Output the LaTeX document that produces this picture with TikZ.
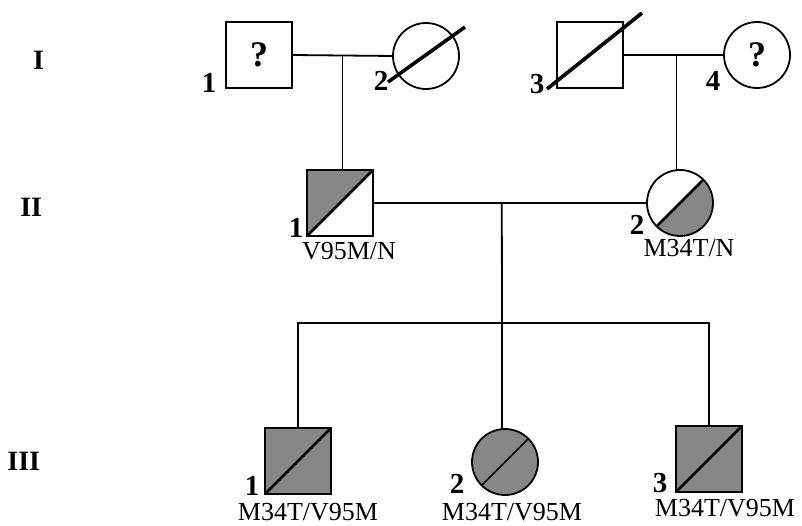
\documentclass[tikz,border=0pt]{standalone}
\usepackage{fontspec}
\setmainfont{Liberation Serif}
\usetikzlibrary{calc,backgrounds}
\definecolor{affgray}{RGB}{135,135,135}

\begin{document}
\begin{tikzpicture}[x=1pt, y=-1pt, line width=1.8pt,
  male/.style={draw, rectangle, minimum size=66pt, inner sep=0pt, outer sep=0pt},
  female/.style={draw, circle, minimum size=66pt, inner sep=0pt, outer sep=0pt},
  qmark/.style={font=\fontsize{36}{36}\selectfont\bfseries},
  num/.style={font=\fontsize{29}{29}\selectfont\bfseries, anchor=base, inner sep=0pt},
  geno/.style={font=\fontsize{26}{26}\selectfont, anchor=base, inner sep=0pt},
  gen/.style={font=\fontsize{28}{28}\selectfont\bfseries, anchor=base east, inner sep=0pt},
  dead/.style={line width=3.6pt},
  split/.style={line width=2.8pt}]
  \useasboundingbox (0,0) rectangle (802,526);

  \node[gen] (genI) at (45,70) {I};
  \node[gen] (genII) at (43,217) {II};
  \node[gen] (genIII) at (41,470) {III};

  \node[male, qmark] (I1) at (259,55) {?};
  \node[female] (I2) at (426,56) {};
  \node[male] (I3) at (590,55) {};
  \node[female, qmark] (I4) at (757,55) {?};
  \node[num] (nI1) at (209,93) {1};
  \node[num] (nI2) at (381,91) {2};
  \node[num] (nI3) at (537,94) {3};
  \node[num] (nI4) at (713,91) {4};
  \draw[dead] ($(I2)+(-38,26)$) -- ($(I2)+(39,-29)$);
  \draw[dead] ($(I3)+(-43,34)$) -- ($(I3)+(52,-42)$);

  \node[male] (II1) at (340,203) {};
  \node[female] (II2) at (680,203) {};
  \node[num] (nII1) at (296,238) {1};
  \node[num] (nII2) at (637,235) {2};
  \node[geno] (gII1) at (349,260) {V95M/N};
  \node[geno] (gII2) at (689,257) {M34T/N};
  \begin{scope}[on background layer]
    \fill[affgray] (II1.south west) -- (II1.north west) -- (II1.north east) -- cycle;
    \clip (II2.center) circle[radius=33pt];
    \fill[affgray] ($(II2.center)+(-40,40)$) -- ($(II2.center)+(40,-40)$) -- ($(II2.center)+(40,40)$) -- cycle;
  \end{scope}
  \draw[split] (II1.south west) -- (II1.north east);
  \draw[split] (II2.south west) -- (II2.north east);

  \node[male, fill=affgray] (III1) at (298,461) {};
  \node[female, fill=affgray] (III2) at (505,462) {};
  \node[male, fill=affgray] (III3) at (709,459) {};
  \node[num] (nIII1) at (252,495) {1};
  \node[num] (nIII2) at (457,493) {2};
  \node[num] (nIII3) at (660,492) {3};
  \node[geno] (gIII1) at (308,520) {M34T/V95M};
  \node[geno] (gIII2) at (512,520) {M34T/V95M};
  \node[geno] (gIII3) at (725,516) {M34T/V95M};
  \draw[split] (III1.south west) -- (III1.north east);
  \draw[line width=1.5pt] (III2.south west) -- (III2.north east);
  \draw[split] (III3.south west) -- (III3.north east);

  \coordinate (m1) at ($(I1.east)!0.5!(I2.west)$);
  \coordinate (m2) at ($(I3.east)!0.53!(I4.west)$);
  \coordinate (m3) at ($(II1.east)!0.47!(II2.west)$);
  \coordinate (sib) at (502,323);
  \draw (I1.east) -- (I2.west);
  \draw (I3.east) -- (I4.west);
  \draw (m1) -- (m1 |- II1.north);
  \draw (m2) -- (m2 |- II2.north);
  \draw (II1.east) -- (II2.west);
  \draw (m3) -- (sib);
  \draw (III1.north) |- (sib) -| (III3.north);
  \draw (sib) -- (sib |- III2.north);
\end{tikzpicture}
\end{document}
